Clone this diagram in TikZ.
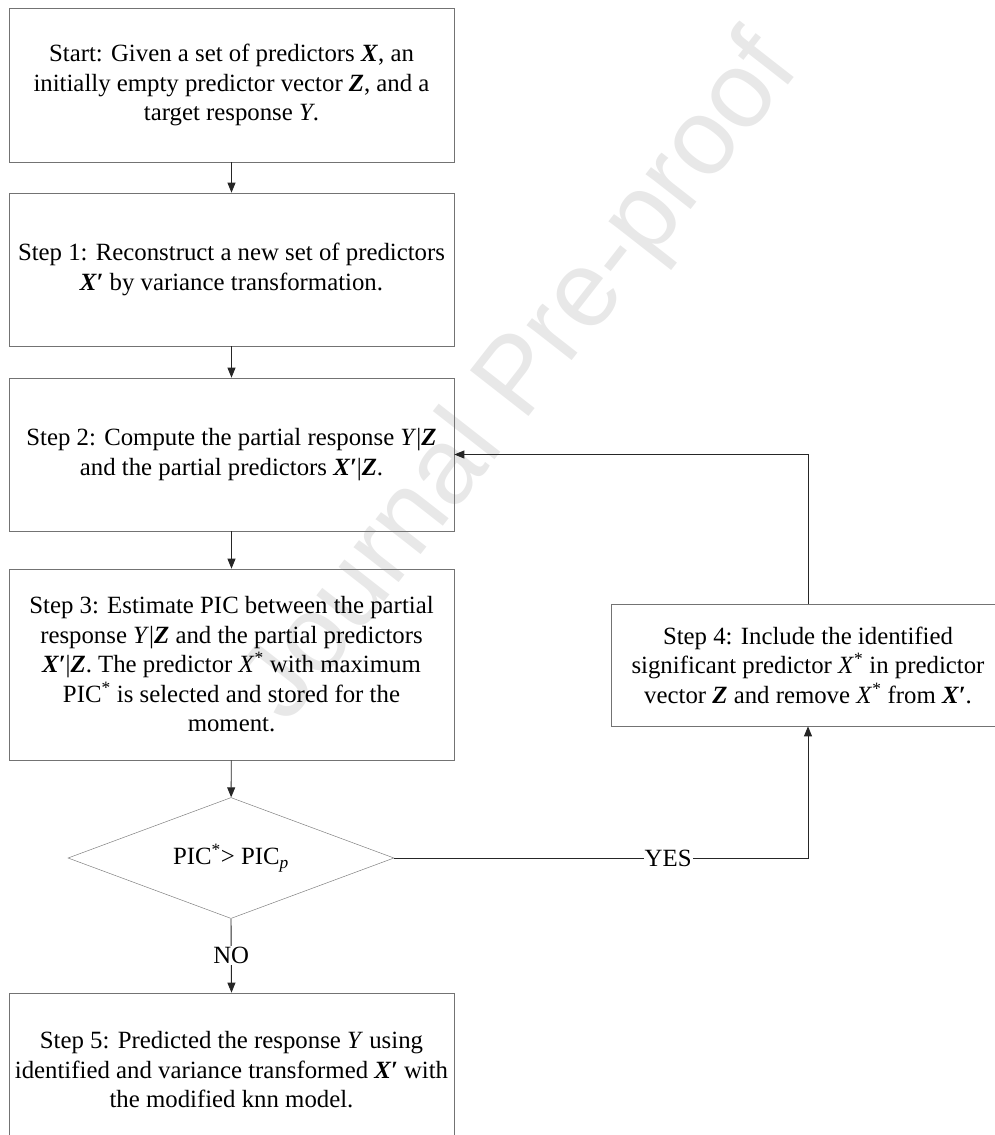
\documentclass[tikz,border=0pt]{standalone}
\usepackage{fontspec}
\setmainfont{Liberation Serif}
\newfontfamily\wmfont{Liberation Sans}
\usetikzlibrary{shapes.geometric,arrows.meta}
\newcommand{\mybX}{\textbf{\textit{X}}}
\newcommand{\mybZ}{\textbf{\textit{Z}}}
\newcommand{\mybXp}{\textbf{\textit{X′}}}
\newcommand{\myY}{\textit{Y}}
\newcommand{\myXs}{\textit{X}\textsuperscript{*}}
\begin{document}
\begin{tikzpicture}[x=1pt,y=-1pt,
  box/.style={draw=black!55, line width=0.7pt, align=center, inner sep=0pt,
    font=\fontsize{24.8}{29.5}\selectfont},
  arr/.style={draw=black!85, line width=0.9pt, -{Triangle[length=10pt,width=8pt]}},
  lbl/.style={fill=white, inner sep=1pt, font=\fontsize{24.8}{29.5}\selectfont}]
\useasboundingbox (0,0) rectangle (995,1135);
\clip (0,0) rectangle (995,1135);
\node[rotate=52, text=black!9, font=\wmfont\fontsize{108}{108}\selectfont] (wm) at (522,380) {Journal Pre-proof};
\node[box, minimum width=445pt, minimum height=154pt] (st) at (231.5,85)
  {Start: Given a set of predictors \mybX, an\\ initially empty predictor vector \mybZ, and a\\ target response \myY.};
\node[box, minimum width=445pt, minimum height=153pt] (s1) at (231.5,269.5)
  {Step 1: Reconstruct a new set of predictors\\ \mybXp{} by variance transformation.};
\node[box, minimum width=445pt, minimum height=153pt] (s2) at (231.5,454.5)
  {Step 2: Compute the partial response \myY|\mybZ\\ and the partial predictors \mybXp|\mybZ.};
\node[box, minimum width=445pt, minimum height=191pt] (s3) at (231.5,664.5)
  {Step 3: Estimate PIC between the partial\\ response \myY|\mybZ{} and the partial predictors\\ \mybXp|\mybZ. The predictor \myXs{} with maximum\\ PIC\textsuperscript{*} is selected and stored for the\\ moment.};
\node[draw=black!50, line width=0.5pt, diamond, aspect=2.7, minimum width=326pt, minimum height=121pt, inner sep=0pt,
  font=\fontsize{24.8}{29.5}\selectfont] (dec) at (231,858)
  {PIC\textsuperscript{*}> PIC\textsubscript{\textit{p}}};
\node[box, minimum width=445pt, minimum height=154pt] (s5) at (231.5,1070)
  {Step 5: Predicted the response \myY{} using\\ identified and variance transformed \mybXp{} with\\ the modified knn model.};
\node[box, minimum width=394pt, minimum height=122pt] (s4) at (808,665)
  {Step 4: Include the identified\\ significant predictor \myXs{} in predictor\\ vector \mybZ{} and remove \myXs{} from \mybXp.};
\draw[arr] (st) -- (s1);
\draw[arr] (s1) -- (s2);
\draw[arr] (s2) -- (s3);
\draw[arr] (s3) -- (dec);
\draw[arr] (s4.north) |- (s2.east);
\draw[arr] (dec.east) -| node[lbl, pos=0.331] {YES} (s4.south);
\draw[arr] (dec.south) -- node[lbl] {NO} (s5.north);
\end{tikzpicture}
\end{document}
